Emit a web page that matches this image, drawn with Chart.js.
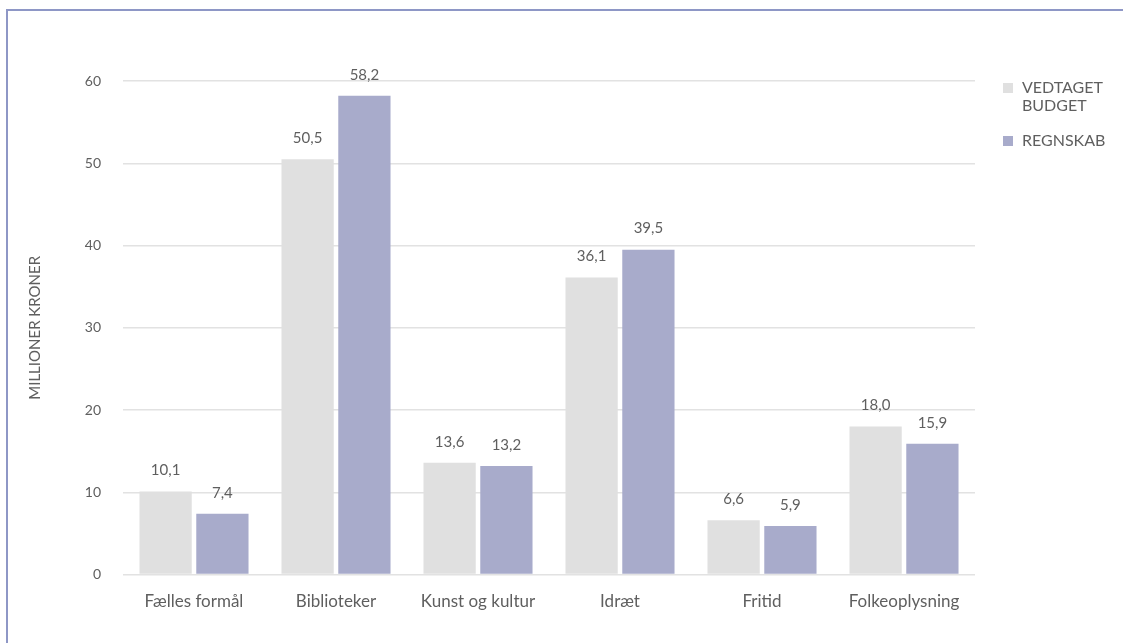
<!DOCTYPE html>
<html lang="da">
  <head>
    <meta charset="UTF-8" />
    <title>Vedtaget budget og regnskab</title>
    <style>
      body { margin: 0; background: #fff; }
      .frame {
        position: absolute; left: 6px; top: 9px; right: 0; bottom: 0;
        border-left: 2px solid #8e97c6; border-top: 2px solid #8e97c6;
      }
      .frame canvas { display: block; }
    </style>
  </head>
  <body>
    <div class="frame">
      <canvas id="chart" width="1115" height="632"></canvas>
    </div>

    <script src="https://cdn.jsdelivr.net/npm/chart.js@4.4.0/dist/chart.umd.min.js"></script>
    <script>
      //data
      const categories = ['Fælles formål', 'Biblioteker', 'Kunst og kultur', 'Idræt', 'Fritid', 'Folkeoplysning'];
      const budget = [10.1, 50.5, 13.6, 36.1, 6.6, 18.0];
      const regnskab = [7.4, 58.2, 13.2, 39.5, 5.9, 15.9];
      const legendLines = [['VEDTAGET', 'BUDGET'], ['REGNSKAB']];
      const yTicks = [0, 10, 20, 30, 40, 50, 60];

      const textColor = '#5f5f5f';
      const font = 'Lato, "Open Sans", sans-serif';

      // value labels above bars, danish decimal comma
      const valueLabels = {
        id: 'valueLabels',
        afterDatasetsDraw(chart) {
          const c = chart.ctx;
          c.save();
          c.fillStyle = textColor;
          c.font = '15px ' + font;
          c.textAlign = 'center';
          c.textBaseline = 'middle';
          chart.data.datasets.forEach((ds, i) => {
            chart.getDatasetMeta(i).data.forEach((bar, j) => {
              c.fillText(ds.data[j].toFixed(1).replace('.', ','), bar.x, bar.y - 21);
            });
          });
          c.restore();
        }
      };

      // legend on the right with wrapped label
      const sideLegend = {
        id: 'sideLegend',
        afterDraw(chart) {
          const c = chart.ctx;
          const x = chart.chartArea.right + 28;
          let y = chart.chartArea.top + 7;
          c.save();
          c.font = '16px ' + font;
          c.textBaseline = 'middle';
          chart.data.datasets.forEach((ds, i) => {
            c.fillStyle = ds.backgroundColor;
            c.fillRect(x, y - 5, 10, 10);
            c.fillStyle = textColor;
            legendLines[i].forEach((t, k) => c.fillText(t, x + 19, y + k * 18));
            y += 53;
          });
          c.restore();
        }
      };

      //config
      const config = {
        type: 'bar',
        data: {
          labels: categories,
          datasets: [
            { label: 'VEDTAGET BUDGET', data: budget, backgroundColor: '#e0e0e0' },
            { label: 'REGNSKAB', data: regnskab, backgroundColor: '#a8abcb' }
          ]
        },
        options: {
          responsive: false,
          animation: false,
          categoryPercentage: 0.8,
          barPercentage: 0.92,
          layout: { padding: { top: 70, right: 148, bottom: 22, left: 18 } },
          plugins: {
            legend: { display: false },
            tooltip: { enabled: false }
          },
          scales: {
            x: {
              grid: { display: false },
              border: { display: false },
              ticks: { color: textColor, font: { family: font, size: 17 }, padding: 9 }
            },
            y: {
              min: 0,
              max: 60,
              afterBuildTicks(axis) {
                axis.ticks = yTicks.map((v) => ({ value: v }));
              },
              afterFit(axis) {
                axis.width = 97;
              },
              grid: { color: '#e2e2e2', lineWidth: 1.5, drawTicks: false },
              border: { display: false },
              ticks: { color: textColor, font: { family: font, size: 14 }, padding: 22 },
              title: {
                display: true,
                text: 'MILLIONER KRONER',
                color: textColor,
                font: { family: font, size: 15 },
                padding: { top: 0, bottom: 0 }
              }
            }
          }
        },
        plugins: [valueLabels, sideLegend]
      };

      //init
      const chart = new Chart(document.getElementById('chart'), config);
    </script>
  </body>
</html>
